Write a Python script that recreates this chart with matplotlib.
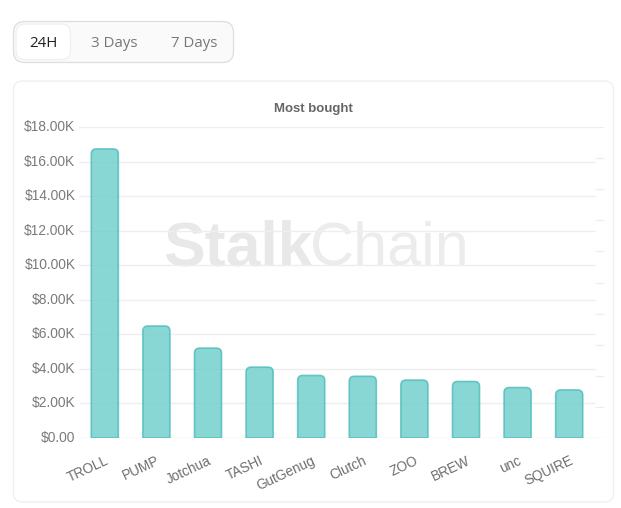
import matplotlib
matplotlib.use("Agg")
import matplotlib.pyplot as plt
from matplotlib.patches import FancyBboxPatch, PathPatch
from matplotlib.path import Path

# Данные графика
tokens = ["TROLL", "PUMP", "Jotchua", "TASHI", "GutGenug", "Clutch", "ZOO", "BREW", "unc", "SQUIRE"]
bought = [16730, 6480, 5200, 4100, 3620, 3570, 3350, 3270, 2920, 2780]
y_ticks = [0, 2000, 4000, 6000, 8000, 10000, 12000, 14000, 16000, 18000]
y_labels = ["$0.00", "$2.00K", "$4.00K", "$6.00K", "$8.00K", "$10.00K",
            "$12.00K", "$14.00K", "$16.00K", "$18.00K"]
periods = ["24H", "3 Days", "7 Days"]
period_x = [43, 114, 194]

W, H = 621, 508
plt.rcParams["font.family"] = ["Liberation Sans", "DejaVu Sans"]
fig = plt.figure(figsize=(W / 100, H / 100), dpi=100)


# Прямоугольник со скруглёнными углами в пикселях
def rounded_box(ax, x0, y0, x1, y1, r, face, edge, lw=1.0, zorder=1):
    box = FancyBboxPatch((x0 + r, y0 + r), x1 - x0 - 2 * r, y1 - y0 - 2 * r,
                         boxstyle=f"round,pad={r},rounding_size={r}",
                         facecolor=face, edgecolor=edge, linewidth=lw, zorder=zorder)
    ax.add_patch(box)


# Фон: кнопки и карточка
bg = fig.add_axes([0, 0, 1, 1])
bg.set_xlim(0, W)
bg.set_ylim(H, 0)
bg.axis("off")
rounded_box(bg, 13.5, 21.5, 233.5, 62.5, 11, "#fafafa", "#dedede", lw=0.9)
rounded_box(bg, 16, 24, 70.5, 59.5, 9, "white", "#f0f0f0", zorder=2)
rounded_box(bg, 13.5, 81, 613.5, 502, 9, "white", "#eeeff0", lw=0.9)
for label, px in zip(periods, period_x):
    bg.text(px, 43.5, label, ha="center", va="center", fontsize=10.8, family="Open Sans",
            color="#222222" if label == "24H" else "#777777", zorder=3)
bg.text(313.5, 109, "Most bought", ha="center", va="center", fontsize=9.5,
        fontweight="bold", color="#666666")
bg.text(163, 249, "Stalk", ha="left", va="center", fontsize=45, fontweight="bold",
        family="Liberation Sans", color="#e8e8e8", zorder=2)
bg.text(310, 249, "Chain", ha="left", va="center", fontsize=44, fontweight="normal",
        family="Liberation Sans", color="#ececec", zorder=2)

# Область графика
ax = fig.add_axes([79 / W, 1 - 438 / H, (604 - 79) / W, (438 - 127) / H])
ax.patch.set_alpha(0)
band = 51.6
ax.set_xlim(-0.5, -0.5 + (604 - 79) / band)
ax.set_ylim(0, 18000)
for s in ax.spines.values():
    s.set_visible(False)

positions = list(range(len(tokens)))
ax.hlines(y_ticks[1:-1], -0.5, 9.5, color="#eceef0", lw=1.0, zorder=1)
ax.axhline(0, color="#e4e6e9", lw=1.0, zorder=1)
ax.axhline(18000, color="#eceef0", lw=1.0, zorder=1)

# Столбцы со скруглённым верхом
bars = ax.bar(positions, bought, width=27 / band, visible=False)
rx = 5 / band
ry = 5 * 18000 / 311
for rect in bars:
    x0, x1 = rect.get_x(), rect.get_x() + rect.get_width()
    top = rect.get_height()
    verts = [(x0, 0), (x0, top - ry), (x0, top), (x0 + rx, top), (x1 - rx, top),
             (x1, top), (x1, top - ry), (x1, 0), (x0, 0)]
    codes = [Path.MOVETO, Path.LINETO, Path.CURVE3, Path.CURVE3, Path.LINETO,
             Path.CURVE3, Path.CURVE3, Path.LINETO, Path.CLOSEPOLY]
    ax.add_patch(PathPatch(Path(verts, codes), facecolor="#6fcfcc", edgecolor="#4fbdbc",
                           alpha=0.82, lw=1.2, zorder=3))

ax.set_yticks(y_ticks)
ax.set_yticklabels(y_labels, fontsize=9.9, color="#7a7a7a", va="center")
ax.set_xticks(positions)
ax.set_xticklabels(tokens, rotation=25, ha="right", rotation_mode="anchor",
                   fontsize=9.8, color="#6e6e6e")
ax.tick_params(axis="y", length=0, pad=2.6)
ax.tick_params(axis="x", length=0, pad=11)

# Короткие засечки второй оси справа
ax2 = ax.twinx()
ax2.set_ylim(0, 10)
ax2.set_yticks(range(1, 10))
ax2.set_yticklabels([])
ax2.tick_params(axis="y", direction="in", length=6.5, width=0.9, color="#eceef0")
for s in ax2.spines.values():
    s.set_visible(False)

fig.savefig("out.png", dpi=100)
